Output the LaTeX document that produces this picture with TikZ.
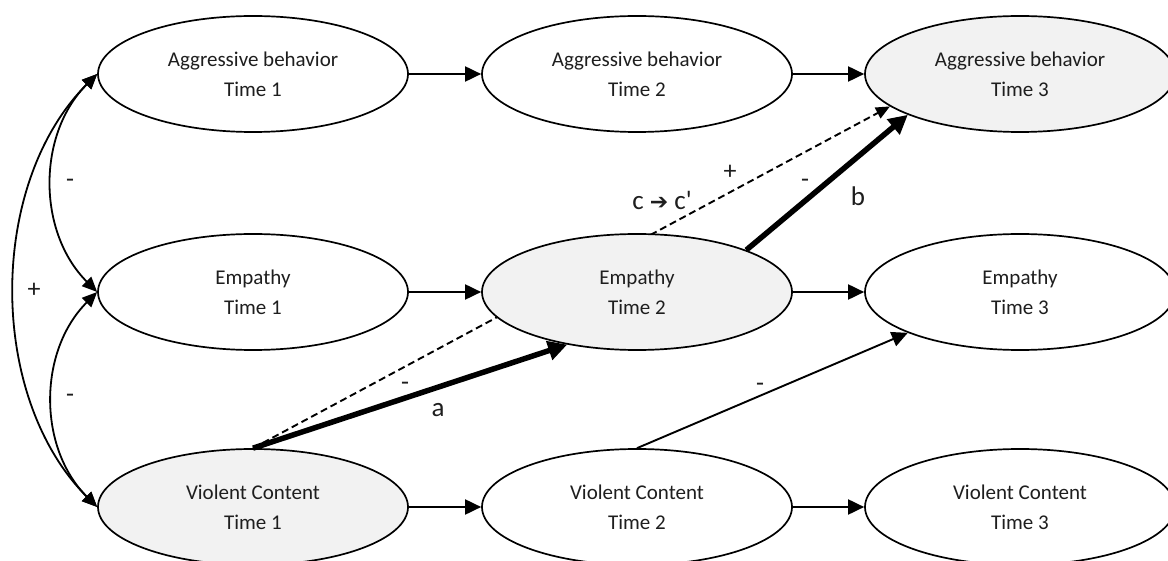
\documentclass[tikz,border=0pt]{standalone}
\usepackage{fontspec}
\setmainfont{Carlito}
\newfontfamily\dvfont{DejaVu Sans}
\usetikzlibrary{shapes.geometric,arrows.meta}
\definecolor{txt}{HTML}{1E1E1E}
\definecolor{shade}{HTML}{F2F2F2}
\tikzset{
  var/.style={ellipse, draw, line width=1.7pt, minimum width=310pt, minimum height=116pt,
    inner sep=0pt, align=center, font=\fontsize{21}{30}\selectfont, text=txt, fill=white},
  hi/.style={fill=shade},
  path/.style={line width=1.9pt, -{Triangle[length=16pt,width=15pt]}},
  cov/.style={line width=1.8pt, {Triangle[length=15pt,width=13pt]}-{Triangle[length=15pt,width=13pt]}},
  thickpath/.style={line width=5.5pt, -{Triangle[length=19pt,width=19pt]}},
  dashpath/.style={line width=1.9pt, dash pattern=on 7pt off 4pt, -{Triangle[length=14pt,width=12pt]}},
  sign/.style={font=\fontsize{26}{26}\selectfont, text=txt, inner sep=0pt},
  big/.style={font=\fontsize{27}{27}\selectfont, text=txt, inner sep=0pt}
}
\begin{document}
\begin{tikzpicture}[x=1pt,y=1pt]
\useasboundingbox (0,0) rectangle (1168,-561);
\node[var] (AB1) at (253,-74) {Aggressive behavior\\Time 1};
\node[var] (AB2) at (637,-74) {Aggressive behavior\\Time 2};
\node[var] (EM1) at (253,-292) {Empathy\\Time 1};
\node[var] (EM3) at (1020,-292) {Empathy\\Time 3};
\node[var] (VC2) at (637,-507) {Violent Content\\Time 2};
\node[var] (VC3) at (1020,-507) {Violent Content\\Time 3};
\node[var,hi] (AB3) at (1020,-74) {Aggressive behavior\\Time 3};
\node[var,hi] (VC1) at (253,-507) {Violent Content\\Time 1};
% dashed c path, drawn behind Empathy Time 2
\draw[dashpath] (VC1.north) -- (AB3.194);
\node[var,hi] (EM2) at (637,-292) {Empathy\\Time 2};
% horizontal paths
\draw[path] (AB1.east) -- (AB2.west);
\draw[path] (AB2.east) -- (AB3.west);
\draw[path] (EM1.east) -- (EM2.west);
\draw[path] (EM2.east) -- (EM3.west);
\draw[path] (VC1.east) -- (VC2.west);
\draw[path] (VC2.east) -- (VC3.west);
% mediation paths
\draw[thickpath] (VC1.north) -- (EM2.217);
\draw[thickpath] (EM2.21) -- (AB3.200);
\draw[path] (VC2.north) -- (EM3.200);
% covariances
\draw[cov] (AB1.west) to[out=225,in=135] (EM1.west);
\draw[cov] (EM1.west) to[out=225,in=135] (VC1.west);
\draw[cov] (AB1.west) to[out=225,in=135,looseness=0.92] (VC1.west);
% labels
\node[sign] (l1) at (70,-183) {-};
\node[sign] (l2) at (70,-398) {-};
\node[sign] (l3) at (34,-290) {+};
\node[sign] (l4) at (405,-386) {-};
\node[big] (la) at (438,-410) {a};
\node[sign] (l5) at (805,-183) {-};
\node[big] (lb) at (858,-196) {b};
\node[big] (lc) at (662,-200) {c {\dvfont\bfseries\fontsize{22}{22}\selectfont ➔} c\textquotesingle};
\node[sign] (l6) at (730,-172) {+};
\node[sign] (l7) at (760,-387) {-};
\end{tikzpicture}
\end{document}
